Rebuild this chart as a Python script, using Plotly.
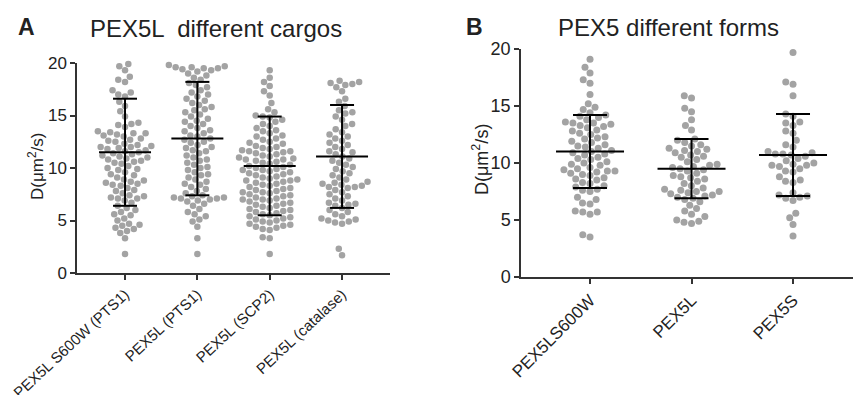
import math
import plotly.graph_objects as go

# ---------------- data ----------------
cats_a = ["PEX5L S600W (PTS1)", "PEX5L (PTS1)", "PEX5L (SCP2)", "PEX5L (catalase)"]
cats_b = ["PEX5LS600W", "PEX5L", "PEX5S"]

a_s600w = [19.9, 19.7, 19.3, 18.7, 18.4, 18.2, 17.4, 17.2, 17.0, 16.8, 16.3, 15.9, 15.4,
           14.9, 14.3, 14.2, 14.1, 13.9, 13.5, 13.4, 13.3, 13.3, 13.2, 13.1, 13.0, 12.8,
           12.7, 12.6, 12.5, 12.3, 12.2, 12.1, 12.0, 12.0, 11.9, 11.8, 11.7, 11.6, 11.5,
           11.4, 11.3, 11.2, 11.1, 11.0, 10.9, 10.8, 10.7, 10.6, 10.5, 10.4, 10.2, 10.0,
           9.9, 9.8, 9.6, 9.4, 9.3, 9.1, 8.9, 8.8, 8.7, 8.6, 8.5, 8.4, 8.3, 8.1, 7.9,
           7.8, 7.6, 7.4, 7.3, 7.2, 7.1, 7.1, 6.9, 6.7, 6.4, 6.2, 6.0, 5.8, 5.6, 5.5,
           5.2, 5.0, 4.7, 4.6, 4.5, 4.3, 4.2, 4.0, 3.8, 3.3, 1.8]
a_pts1 = [19.8, 19.7, 19.6, 19.6, 19.5, 19.5, 19.4, 19.3, 19.2, 19.0, 18.8, 18.6, 18.4,
          18.1, 17.9, 17.7, 17.4, 17.2, 17.0, 16.8, 16.6, 16.4, 16.2, 16.0, 15.8, 15.6,
          15.5, 15.3, 15.1, 14.9, 14.7, 14.5, 14.4, 14.2, 14.0, 13.8, 13.6, 13.5, 13.3,
          13.1, 13.0, 12.8, 12.7, 12.5, 12.4, 12.2, 12.0, 11.9, 11.7, 11.6, 11.4, 11.2,
          11.0, 10.8, 10.7, 10.5, 10.3, 10.1, 10.0, 9.8, 9.6, 9.4, 9.3, 9.1, 8.9, 8.7,
          8.5, 8.4, 8.2, 8.0, 7.8, 7.6, 7.4, 7.3, 7.2, 7.2, 7.1, 7.1, 7.0, 6.9, 6.8,
          6.6, 6.4, 6.1, 5.8, 5.6, 5.4, 5.1, 4.9, 4.4, 3.3, 1.8]
a_scp2 = [19.3, 18.6, 18.2, 17.8, 17.3, 16.9, 16.2, 15.6, 15.3, 15.0, 14.9, 14.8, 14.6,
          14.4, 14.2, 14.0, 13.8, 13.6, 13.5, 13.3, 13.1, 13.0, 12.8, 12.7, 12.5, 12.4,
          12.3, 12.1, 12.0, 11.9, 11.8, 11.7, 11.6, 11.6, 11.5, 11.4, 11.3, 11.2, 11.1,
          11.0, 10.9, 10.8, 10.8, 10.7, 10.6, 10.5, 10.4, 10.3, 10.2, 10.1, 10.0, 9.9,
          9.8, 9.8, 9.7, 9.6, 9.5, 9.4, 9.3, 9.2, 9.1, 9.0, 8.9, 8.8, 8.8, 8.7, 8.6,
          8.5, 8.4, 8.3, 8.2, 8.1, 8.0, 7.9, 7.8, 7.7, 7.7, 7.6, 7.5, 7.4, 7.3, 7.2,
          7.1, 7.0, 7.0, 6.9, 6.8, 6.7, 6.6, 6.5, 6.4, 6.3, 6.2, 6.1, 6.0, 5.9, 5.8,
          5.7, 5.6, 5.5, 5.4, 5.3, 5.2, 5.1, 5.0, 4.9, 4.8, 4.7, 4.6, 4.5, 4.4, 4.3,
          4.2, 4.1, 3.4, 3.3, 1.8]
a_catalase = [18.3, 18.2, 18.1, 18.0, 17.9, 17.7, 17.3, 16.6, 16.3, 15.9, 15.5, 15.3,
              15.2, 14.9, 14.6, 14.2, 14.0, 13.7, 13.4, 13.2, 13.0, 12.8, 12.6, 12.4,
              12.2, 12.0, 11.8, 11.6, 11.5, 11.3, 11.1, 10.9, 10.7, 10.5, 10.3, 10.1,
              9.9, 9.7, 9.5, 9.3, 9.1, 8.9, 8.7, 8.6, 8.5, 8.4, 8.3, 8.2, 8.2, 8.1, 7.9,
              7.7, 7.5, 7.3, 7.1, 6.9, 6.7, 6.6, 6.5, 6.4, 6.2, 6.0, 5.8, 5.6, 5.4, 5.2,
              5.1, 5.0, 4.9, 4.8, 4.7, 2.3, 1.7]

b_s600w = [19.1, 18.4, 17.9, 17.3, 17.0, 16.0, 15.2, 14.9, 14.7, 14.4, 14.2, 14.1, 14.0,
           13.8, 13.6, 13.5, 13.5, 13.4, 13.3, 13.2, 13.1, 12.9, 12.8, 12.6, 12.5, 12.3,
           12.2, 12.1, 11.9, 11.8, 11.6, 11.5, 11.4, 11.3, 11.1, 11.0, 10.9, 10.8, 10.7,
           10.5, 10.4, 10.3, 10.1, 10.0, 9.9, 9.8, 9.6, 9.5, 9.4, 9.3, 9.3, 9.2, 9.1,
           9.0, 8.9, 8.7, 8.6, 8.5, 8.3, 8.2, 8.0, 7.9, 7.7, 7.6, 7.5, 7.0, 6.8, 6.5,
           6.4, 5.8, 5.7, 5.7, 5.5, 3.7, 3.5]
b_pex5l = [15.9, 15.7, 14.8, 14.5, 13.8, 13.3, 12.9, 12.1, 12.0, 11.8, 11.6, 11.5, 11.3,
           11.2, 11.1, 11.0, 10.9, 10.7, 10.6, 10.5, 10.3, 10.1, 9.9, 9.8, 9.7, 9.6, 9.5,
           9.4, 9.3, 9.1, 8.9, 8.8, 8.7, 8.6, 8.4, 8.2, 8.0, 7.8, 7.7, 7.6, 7.5, 7.5,
           7.4, 7.3, 7.2, 7.1, 7.0, 6.9, 6.8, 6.6, 6.3, 6.0, 5.8, 5.5, 5.3, 5.0, 4.9,
           4.8, 4.7]
b_pex5s = [19.7, 17.1, 16.9, 15.9, 14.3, 14.1, 13.6, 13.5, 13.3, 12.8, 12.6, 12.0, 11.6,
           11.4, 11.0, 10.9, 10.8, 10.8, 10.7, 10.6, 10.4, 10.2, 10.0, 9.9, 9.8, 9.8,
           9.7, 9.5, 9.3, 9.2, 8.8, 8.5, 8.4, 8.3, 7.4, 7.2, 7.1, 7.0, 6.9, 6.7, 5.6,
           5.2, 4.6, 3.6]

# summary statistics shown as mean +/- SD
mean_a = [11.5, 12.8, 10.2, 11.1]
sd_a = [5.1, 5.4, 4.7, 4.9]
mean_b = [11.0, 9.5, 10.7]
sd_b = [3.2, 2.6, 3.6]

groups_a = [a_s600w, a_pts1, a_scp2, a_catalase]
groups_b = [b_s600w, b_pex5l, b_pex5s]

W, H = 853, 395
DOT = "#a3a3a3"
AX = "#333333"
FONT = "Liberation Sans, Arial, sans-serif"

# panel geometry (pixels)
A_X0, A_X1, A_Y0, A_Y1 = 77, 390, 273, 63
B_X0, B_X1, B_Y0, B_Y1 = 521, 853, 277, 49
A_XR = [0.336, 4.663]
B_XR = [0.320, 3.591]


def swarm(values, center, px_per_x, px_per_y, diam):
    order = sorted(range(len(values)), key=lambda i: values[i])
    placed = []
    xs = [0.0] * len(values)
    for i in order:
        y = values[i] * px_per_y
        near = [(px, py) for px, py in placed if abs(py - y) < diam]
        cands = [0.0]
        for px, py in near:
            dx = math.sqrt(max(diam ** 2 - (py - y) ** 2, 0))
            cands += [px + dx, px - dx]
        cands.sort(key=lambda c: (abs(c), c))
        chosen = 0.0
        for c in cands:
            if all((c - px) ** 2 + (y - py) ** 2 >= diam ** 2 - 1e-6 for px, py in near):
                chosen = c
                break
        placed.append((chosen, y))
        xs[i] = center + chosen / px_per_x
    return xs


fig = go.Figure()


def add_panel(groups, means, sds, xref, yref, x0, x1, y0, y1, xr, mean_half_px, cap_half_px, dot):
    ppx = (x1 - x0) / (xr[1] - xr[0])
    ppy = (y0 - y1) / 20.0
    for k, vals in enumerate(groups):
        xs = swarm(vals, k + 1, ppx, ppy, dot + 0.6)
        fig.add_trace(go.Scatter(x=xs, y=vals, mode="markers", xaxis=xref, yaxis=yref,
                                 marker=dict(color=DOT, size=dot, line=dict(width=0)),
                                 showlegend=False, hoverinfo="y", cliponaxis=False))
    lx, ly = [], []
    for k, (m, s) in enumerate(zip(means, sds)):
        c = k + 1
        mh = mean_half_px / ppx
        ch = cap_half_px / ppx
        lx += [c - mh, c + mh, None, c, c, None, c - ch, c + ch, None, c - ch, c + ch, None]
        ly += [m, m, None, m - s, m + s, None, m + s, m + s, None, m - s, m - s, None]
    fig.add_trace(go.Scatter(x=lx, y=ly, mode="lines", xaxis=xref, yaxis=yref,
                             line=dict(color="black", width=2), showlegend=False,
                             hoverinfo="skip", cliponaxis=False))


add_panel(groups_a, mean_a, sd_a, "x", "y", A_X0, A_X1, A_Y0, A_Y1, A_XR, 26, 12, 6.5)
add_panel(groups_b, mean_b, sd_b, "x2", "y2", B_X0, B_X1, B_Y0, B_Y1, B_XR, 34, 17, 7)

common_ax = dict(showline=True, linecolor=AX, linewidth=1.5, ticks="outside", ticklen=5,
                 tickwidth=1.5, tickcolor=AX, showgrid=False, zeroline=False,
                 automargin=False,
                 tickfont=dict(family=FONT, size=17, color="#222222"))

fig.update_layout(
    width=W, height=H, margin=dict(l=0, r=0, t=0, b=0),
    paper_bgcolor="white", plot_bgcolor="white",
    font=dict(family=FONT, color="#222222"),
    xaxis=dict(common_ax, domain=[A_X0 / W, A_X1 / W], range=A_XR, anchor="y",
               tickmode="array", tickvals=[1, 2, 3, 4], ticktext=cats_a, tickangle=-43,
               tickfont=dict(family=FONT, size=15, color="#222222")),
    yaxis=dict(common_ax, domain=[(H - A_Y0) / H, (H - A_Y1) / H], range=[0, 20],
               anchor="x", tickvals=[0, 5, 10, 15, 20]),
    xaxis2=dict(common_ax, domain=[B_X0 / W, B_X1 / W], range=B_XR, anchor="y2",
                tickmode="array", tickvals=[1, 2, 3], ticktext=cats_b, tickangle=-45,
                tickfont=dict(family=FONT, size=17, color="#222222")),
    yaxis2=dict(common_ax, domain=[(H - B_Y0) / H, (H - B_Y1) / H], range=[0, 20],
                anchor="x2", tickvals=[0, 5, 10, 15, 20],
                tickfont=dict(family=FONT, size=18, color="#222222")),
)

ann = [
    dict(text="<b>A</b>", x=27 / W, y=1 - 27 / H, font=dict(size=23)),
    dict(text="PEX5L  different cargos", x=216 / W, y=1 - 29 / H, font=dict(size=24)),
    dict(text="<b>B</b>", x=474 / W, y=1 - 27 / H, font=dict(size=23)),
    dict(text="PEX5 different forms", x=668 / W, y=1 - 27 / H, font=dict(size=24)),
    dict(text="D(μm<sup>2</sup>/s)", x=36 / W, y=1 - 167 / H, textangle=-90, font=dict(size=17)),
    dict(text="D(μm<sup>2</sup>/s)", x=481 / W, y=1 - 160 / H, textangle=-90, font=dict(size=18)),
]
for a in ann:
    a.update(xref="paper", yref="paper", showarrow=False, xanchor="center", yanchor="middle")
    a["font"].update(family=FONT, color="#222222")
fig.update_layout(annotations=ann)

fig.write_html("out.html", config={"displayModeBar": False},
               post_script="document.body.style.margin='0';document.body.style.overflow='hidden';")
